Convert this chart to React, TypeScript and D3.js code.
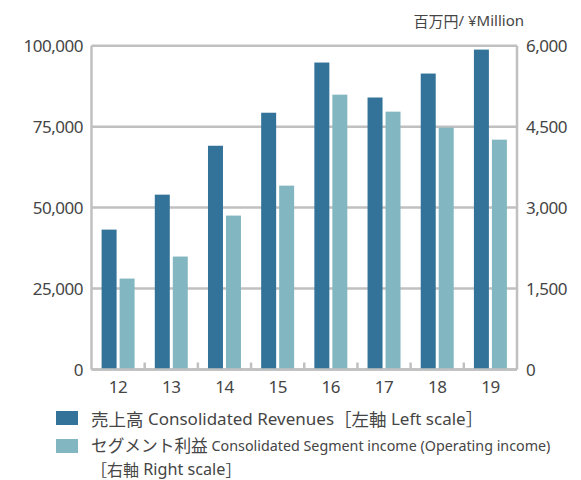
import React from "react";
import * as d3 from "d3";

const years = ["12", "13", "14", "15", "16", "17", "18", "19"];
const revenues = [43200, 54000, 69100, 79300, 94800, 84000, 91400, 98800];
const segmentIncome = [1685, 2093, 2852, 3407, 5093, 4778, 4481, 4259];
const leftTicks = [0, 25000, 50000, 75000, 100000];
const rightTicks = [0, 1500, 3000, 4500, 6000];

const W = 581;
const H = 480;
const L = 91.5;
const R = 517;
const T = 45.7;
const B = 369.5;
const DARK = "#337399";
const LIGHT = "#82b6c1";
const GRID = "#c0c0c0";
const TXT = "#454545";
const FONT = "'Noto Sans', 'Noto Sans CJK JP', sans-serif";
const CJK = "'Noto Sans CJK JP', 'Noto Sans', sans-serif";

export default function App() {
  const x = d3.scaleBand<string>().domain(years).range([L, R]).paddingInner(0.38).paddingOuter(0.19);
  const yL = d3.scaleLinear().domain([0, 100000]).range([B, T]);
  const yR = d3.scaleLinear().domain([0, 6000]).range([B, T]);
  const bw = (x.bandwidth() - 3) / 2;
  const step = x.step();
  const fmt = d3.format(",");

  return (
    <svg width={W} height={H} style={{ position: "absolute", left: 0, top: 0 }} fontFamily={FONT}>
      <rect width={W} height={H} fill="#fff" />
      {leftTicks.map((t) => (
        <line key={"g" + t} x1={L} x2={R} y1={yL(t)} y2={yL(t)} stroke={GRID} strokeWidth={2.5} />
      ))}
      <line x1={L} x2={L} y1={T} y2={B} stroke={GRID} strokeWidth={2.5} />
      <line x1={R} x2={R} y1={T} y2={B} stroke={GRID} strokeWidth={2.5} />
      {years.slice(1).map((yr) => {
        const xx = (x(yr) as number) - (step - x.bandwidth()) / 2;
        return <line key={"t" + yr} x1={xx} x2={xx} y1={B} y2={B - 7} stroke={GRID} strokeWidth={2.5} />;
      })}
      {years.map((yr, i) => (
        <g key={"b" + yr}>
          <rect x={x(yr)} y={yL(revenues[i])} width={bw} height={B - yL(revenues[i])} fill={DARK} />
          <rect x={(x(yr) as number) + bw + 3} y={yR(segmentIncome[i])} width={bw} height={B - yR(segmentIncome[i])} fill={LIGHT} />
        </g>
      ))}
      <line x1={L} x2={R} y1={B} y2={B} stroke={GRID} strokeWidth={2.5} />
      {leftTicks.map((t) => (
        <text key={"l" + t} x={83} y={yL(t)} textAnchor="end" dominantBaseline="central" fontSize={17} letterSpacing={-0.5} fill={TXT}>
          {fmt(t)}
        </text>
      ))}
      {rightTicks.map((t) => (
        <text key={"r" + t} x={526} y={yR(t)} textAnchor="start" dominantBaseline="central" fontSize={17} letterSpacing={-0.5} fill={TXT}>
          {fmt(t)}
        </text>
      ))}
      {years.map((yr) => (
        <text key={"x" + yr} x={(x(yr) as number) + x.bandwidth() / 2} y={386} textAnchor="middle" dominantBaseline="central" fontSize={17} letterSpacing={-0.5} fill={TXT}>
          {yr}
        </text>
      ))}
      <text x={524} y={20} textAnchor="end" dominantBaseline="central" fontSize={15} fill={TXT}>
        <tspan fontFamily={CJK}>百万円</tspan>
        <tspan>/ ¥Million</tspan>
      </text>
      <rect x={56} y={411} width={22} height={14} fill={DARK} />
      <rect x={56} y={439} width={22} height={14} fill={LIGHT} />
      <text x={91} y={418} dominantBaseline="central" fill={TXT} fontSize={17}>
        <tspan fontFamily={CJK} fontSize={17.5}>売上高</tspan>
        <tspan> Consolidated Revenues</tspan>
        <tspan fontFamily={CJK} fontSize={17.5}>［左軸</tspan>
        <tspan> Left scale</tspan>
        <tspan fontFamily={CJK} fontSize={17.5}>］</tspan>
      </text>
      <text x={91} y={445} dominantBaseline="central" fill={TXT} fontSize={14.3}>
        <tspan fontFamily={CJK} fontSize={16.7}>セグメント利益</tspan>
        <tspan> Consolidated Segment income (Operating income)</tspan>
      </text>
      <text x={91} y={468.5} dominantBaseline="central" fill={TXT} fontSize={16.2}>
        <tspan fontFamily={CJK} fontSize={16}>［右軸</tspan>
        <tspan> Right scale</tspan>
        <tspan fontFamily={CJK} fontSize={16}>］</tspan>
      </text>
    </svg>
  );
}
